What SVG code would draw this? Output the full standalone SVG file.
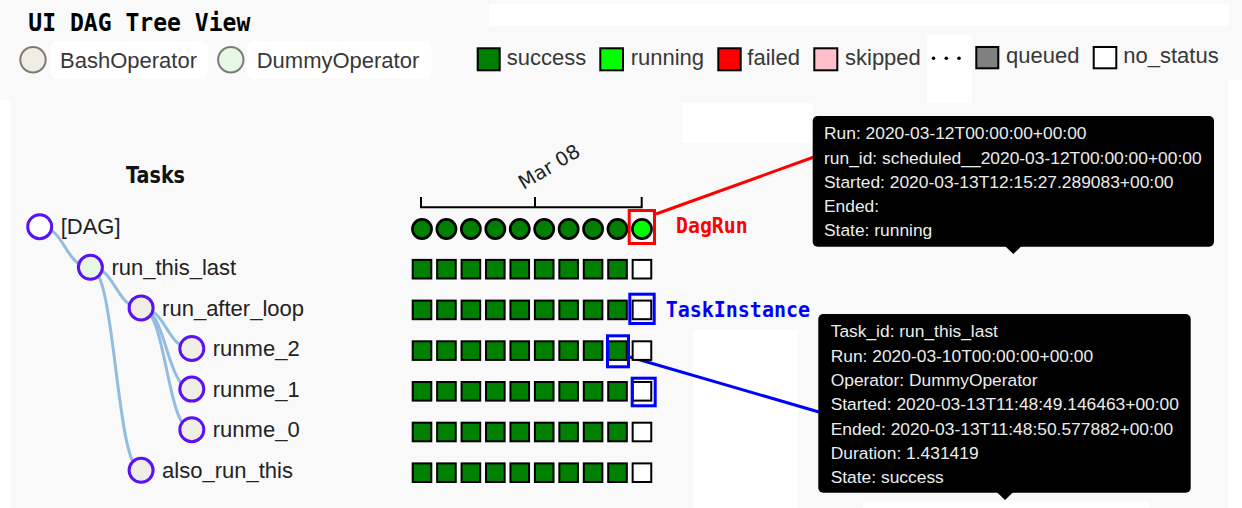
<svg xmlns="http://www.w3.org/2000/svg" width="1242" height="508" viewBox="0 0 1242 508">
<style>
.title{font-family:"DejaVu Sans Mono","Liberation Mono",monospace;font-weight:bold;fill:#000}
.lbl{font-family:"Liberation Sans",Arial,sans-serif;font-size:22px;fill:#222}
.leg{font-family:"Liberation Sans",Arial,sans-serif;font-size:22px;fill:#383838}
.tip{font-family:"Liberation Sans",Arial,sans-serif;font-size:17.4px;fill:#ececec}
.node{stroke:#5a12f5;stroke-width:3}
.bash{fill:#f0ede4}
.dummy{fill:#e6f8e3}
.link{fill:none;stroke:#93bde0;stroke-width:3}
.sq{stroke:#000;stroke-width:2}
.ok{fill:#008000}
.none{fill:#fff}
.run{fill:#00ff00}
.dr{stroke:#000;stroke-width:2.6}
.lsq{stroke:#000;stroke-width:2}
.ann{font-family:"DejaVu Sans Mono","Liberation Mono",monospace;font-weight:bold;font-size:22px}
</style>
<rect x="0" y="0" width="1242" height="508" fill="#f9f9f9"/>
<g id="background-patches" fill="#ffffff">
<rect x="489" y="4" width="740" height="22"/>
<rect x="927" y="35" width="45" height="68"/>
<rect x="682" y="103" width="131" height="40"/>
<rect x="693" y="330" width="105" height="178"/>
<rect x="863" y="501.5" width="287" height="6.5"/>
<rect x="0" y="100" width="11" height="408"/>
<rect x="1228" y="80" width="14" height="428"/>
</g>
<text id="title" class="title" x="28.3" y="30.7" font-size="24.5" textLength="222" lengthAdjust="spacingAndGlyphs">UI DAG Tree View</text>
<g id="legend-operators">
<rect x="50" y="40.7" width="158" height="38.6" rx="8" fill="#fff"/>
<circle cx="33" cy="59.7" r="12.7" fill="#f0ede4" stroke="#7a7a7a" stroke-width="2"/>
<text class="leg" x="60" y="68.3">BashOperator</text>
<rect x="246.7" y="40.7" width="185" height="38.6" rx="8" fill="#fff"/>
<circle cx="230.8" cy="59.7" r="12.7" fill="#e6f8e3" stroke="#7a7a7a" stroke-width="2"/>
<text class="leg" x="256.7" y="68.3">DummyOperator</text>
</g>
<g id="legend-states">
<rect class="lsq" x="477.7" y="48.3" width="22" height="22" fill="#008000"/>
<text class="leg" x="506.7" y="65">success</text>
<rect class="lsq" x="600.3" y="48.3" width="22.7" height="22" fill="#00ff00"/>
<text class="leg" x="630.7" y="65">running</text>
<rect class="lsq" x="718.3" y="48.3" width="22.4" height="22" fill="#ff0000"/>
<text class="leg" x="747.3" y="65">failed</text>
<rect class="lsq" x="814.3" y="48.3" width="23" height="22" fill="#ffc0cb"/>
<text class="leg" x="845" y="65">skipped</text>
<circle cx="933.5" cy="58.3" r="1.8" fill="#000"/>
<circle cx="946.3" cy="58.3" r="1.8" fill="#000"/>
<circle cx="959" cy="58.3" r="1.8" fill="#000"/>
<rect class="lsq" x="976.3" y="47" width="22" height="21.3" fill="#808080"/>
<text class="leg" x="1006" y="63.3">queued</text>
<rect class="lsq" x="1093.7" y="47" width="22.6" height="21.3" fill="#fff"/>
<text class="leg" x="1123.3" y="63.3">no_status</text>
</g>
<text id="tasks-header" x="126" y="183.3" font-family="'DejaVu Sans',sans-serif" font-weight="bold" font-size="23" fill="#111" textLength="59" lengthAdjust="spacingAndGlyphs">Tasks</text>
<g id="connectors">
<path class="link" d="M39.7,226.7 C65,226.7 65,267.3 90.4,267.3"/>
<path class="link" d="M90.4,267.3 C115.75,267.3 115.75,307.9 141.1,307.9"/>
<path class="link" d="M90.4,267.3 C115.75,267.3 115.75,470.3 141.1,470.3"/>
<path class="link" d="M141.1,307.9 C166.45,307.9 166.45,348.5 191.8,348.5"/>
<path class="link" d="M141.1,307.9 C166.45,307.9 166.45,389.1 191.8,389.1"/>
<path class="link" d="M141.1,307.9 C166.45,307.9 166.45,429.7 191.8,429.7"/>
<line x1="656" y1="214" x2="814" y2="157" stroke="#ff0000" stroke-width="3"/>
<line x1="630" y1="357" x2="819" y2="412" stroke="#0000ff" stroke-width="3"/>
</g>
<g id="node-dag"><circle class="node" cx="39.7" cy="226.7" r="12" fill="#fff"/><text class="lbl" x="60.7" y="234.4">[DAG]</text></g>
<g id="node-run_this_last"><circle class="node dummy" cx="90.4" cy="267.3" r="12"/><text class="lbl" x="111.4" y="275">run_this_last</text></g>
<g id="node-run_after_loop"><circle class="node bash" cx="141.1" cy="307.9" r="12"/><text class="lbl" x="162.1" y="315.6">run_after_loop</text></g>
<g id="node-runme_2"><circle class="node bash" cx="191.8" cy="348.5" r="12"/><text class="lbl" x="212.8" y="356.2">runme_2</text></g>
<g id="node-runme_1"><circle class="node bash" cx="191.8" cy="389.1" r="12"/><text class="lbl" x="212.8" y="396.8">runme_1</text></g>
<g id="node-runme_0"><circle class="node bash" cx="191.8" cy="429.7" r="12"/><text class="lbl" x="212.8" y="437.4">runme_0</text></g>
<g id="node-also_run_this"><circle class="node bash" cx="141.1" cy="470.3" r="12"/><text class="lbl" x="162.1" y="478">also_run_this</text></g>
<g id="axis" stroke="#000" stroke-width="2" fill="none">
<path d="M421,197 V207.3 H641.7 V197 M535,207.3 V197"/>
</g>
<text id="axis-label" x="0" y="0" transform="translate(523.5,190) rotate(-31)" font-family="'DejaVu Sans',sans-serif" font-size="19.5" fill="#222">Mar 08</text>
<g id="dagruns">
<circle class="dr ok" cx="422" cy="229" r="9.6"/>
<circle class="dr ok" cx="446.44" cy="229" r="9.6"/>
<circle class="dr ok" cx="470.88" cy="229" r="9.6"/>
<circle class="dr ok" cx="495.32" cy="229" r="9.6"/>
<circle class="dr ok" cx="519.76" cy="229" r="9.6"/>
<circle class="dr ok" cx="544.2" cy="229" r="9.6"/>
<circle class="dr ok" cx="568.64" cy="229" r="9.6"/>
<circle class="dr ok" cx="593.08" cy="229" r="9.6"/>
<circle class="dr ok" cx="617.52" cy="229" r="9.6"/>
<circle class="dr run" cx="641.96" cy="229" r="9.6"/>
</g>
<defs>
<g id="row">
<rect class="sq ok" x="412.7" y="0" width="18.6" height="18.6"/>
<rect class="sq ok" x="437.14" y="0" width="18.6" height="18.6"/>
<rect class="sq ok" x="461.58" y="0" width="18.6" height="18.6"/>
<rect class="sq ok" x="486.02" y="0" width="18.6" height="18.6"/>
<rect class="sq ok" x="510.46" y="0" width="18.6" height="18.6"/>
<rect class="sq ok" x="534.9" y="0" width="18.6" height="18.6"/>
<rect class="sq ok" x="559.34" y="0" width="18.6" height="18.6"/>
<rect class="sq ok" x="583.78" y="0" width="18.6" height="18.6"/>
<rect class="sq ok" x="608.22" y="0" width="18.6" height="18.6"/>
<rect class="sq none" x="632.66" y="0" width="18.6" height="18.6"/>
</g>
</defs>
<g id="grid-run_this_last"><use href="#row" y="259.9"/></g>
<g id="grid-run_after_loop"><use href="#row" y="300.6"/></g>
<g id="grid-runme_2"><use href="#row" y="341.3"/></g>
<g id="grid-runme_1"><use href="#row" y="382"/></g>
<g id="grid-runme_0"><use href="#row" y="422.7"/></g>
<g id="grid-also_run_this"><use href="#row" y="463.4"/></g>
<g id="highlights" fill="none" stroke-width="3">
<rect x="629.2" y="210.5" width="25.3" height="33" stroke="#ff0000"/>
<rect x="629.8" y="294.2" width="24.4" height="29.3" stroke="#0000ff"/>
<rect x="607.5" y="335.8" width="21" height="31" stroke="#0000ff"/>
<rect x="632.2" y="378.2" width="23" height="27.6" stroke="#0000ff"/>
</g>
<text id="label-dagrun" class="ann" x="676" y="233.3" fill="#ff0000" textLength="71.7" lengthAdjust="spacingAndGlyphs">DagRun</text>
<text id="label-taskinstance" class="ann" x="665.7" y="317.3" fill="#0000ff" font-size="22.5" textLength="144.3" lengthAdjust="spacingAndGlyphs">TaskInstance</text>
<g id="tooltip-dagrun">
<rect x="812.7" y="116" width="401.3" height="130.7" rx="5" fill="#000"/>
<polygon points="1005,246 1021.6,246 1013.3,254" fill="#000"/>
<text class="tip" x="824" y="139.3">Run: 2020-03-12T00:00:00+00:00</text>
<text class="tip" x="824" y="163.5">run_id: scheduled__2020-03-12T00:00:00+00:00</text>
<text class="tip" x="824" y="187.7">Started: 2020-03-13T12:15:27.289083+00:00</text>
<text class="tip" x="824" y="211.9">Ended:</text>
<text class="tip" x="824" y="236.1">State: running</text>
</g>
<g id="tooltip-taskinstance">
<rect x="818.3" y="314" width="372.4" height="178.7" rx="5" fill="#000"/>
<polygon points="996.7,492 1013.3,492 1005,500" fill="#000"/>
<text class="tip" x="830.7" y="337.3">Task_id: run_this_last</text>
<text class="tip" x="830.7" y="361.6">Run: 2020-03-10T00:00:00+00:00</text>
<text class="tip" x="830.7" y="385.9">Operator: DummyOperator</text>
<text class="tip" x="830.7" y="410.2">Started: 2020-03-13T11:48:49.146463+00:00</text>
<text class="tip" x="830.7" y="434.5">Ended: 2020-03-13T11:48:50.577882+00:00</text>
<text class="tip" x="830.7" y="458.8">Duration: 1.431419</text>
<text class="tip" x="830.7" y="483.1">State: success</text>
</g>
</svg>
